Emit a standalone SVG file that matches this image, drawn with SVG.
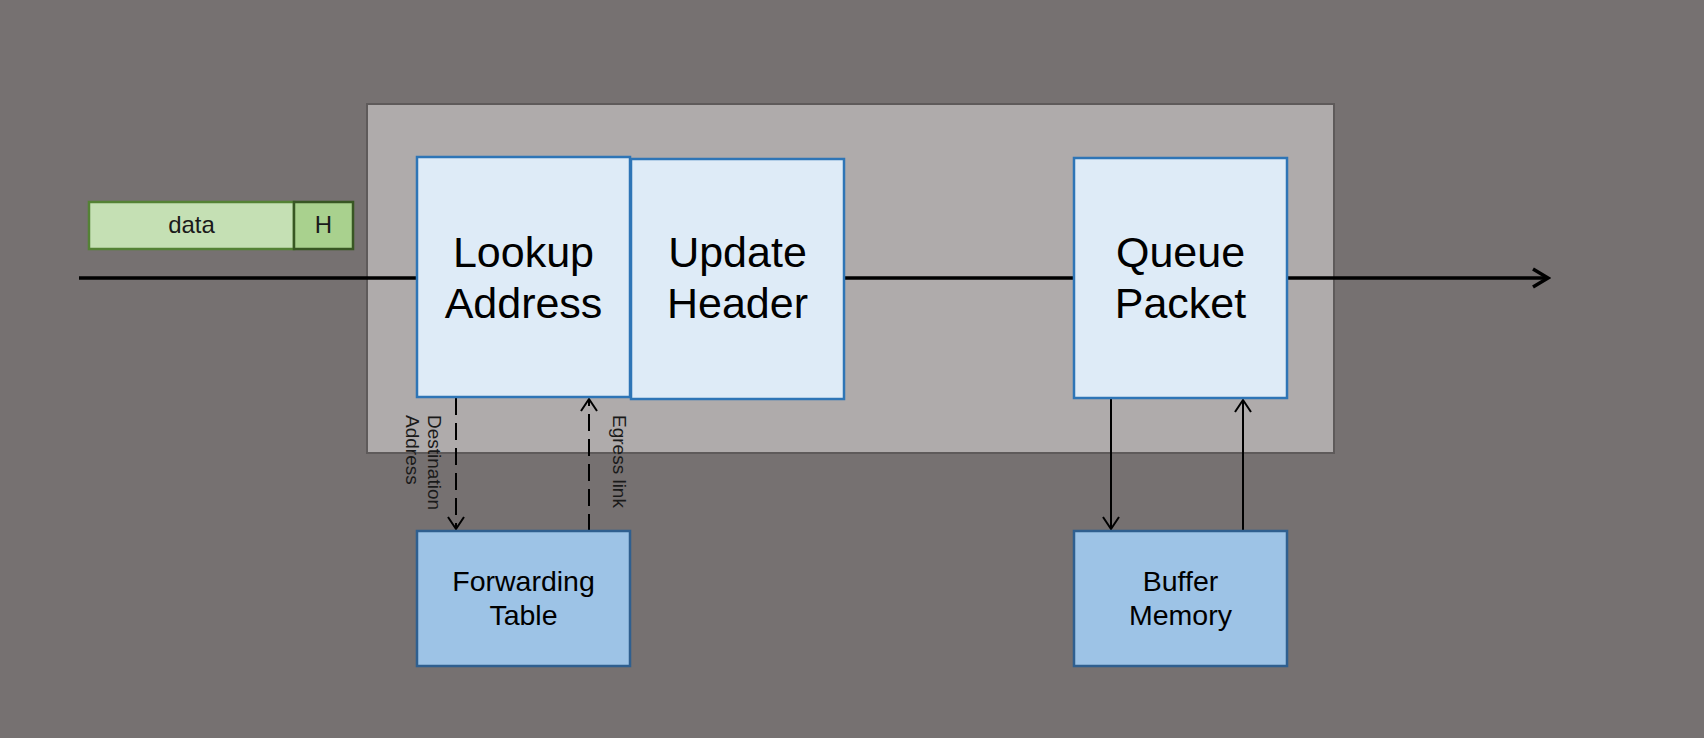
<svg xmlns="http://www.w3.org/2000/svg" width="1704" height="738" viewBox="0 0 1704 738">
<style>
.bg{fill:#767171}
.container{fill:#afabab;stroke:#5e5a5a;stroke-width:2}
.proc{fill:#deebf7;stroke:#2e75b6;stroke-width:2.5}
.store{fill:#9dc3e6;stroke:#2f5f8f;stroke-width:2.5}
.data{fill:#c5e0b4;stroke:#548235;stroke-width:2.5}
.hdr{fill:#a9d18e;stroke:#385723;stroke-width:2.5}
text{font-family:"Liberation Sans",Arial,sans-serif;fill:#000}
.big{font-size:43px;text-anchor:middle}
.mid{font-size:28.5px;text-anchor:middle}
.pk{font-size:24px;text-anchor:middle;fill:#1a1a1a}
.lbl{font-size:19px;fill:#1a1a1a}
.main{stroke:#000;stroke-width:3.5;fill:none}
.conn{stroke:#000;stroke-width:2;fill:none}
.dash{stroke-dasharray:17 8}
</style>
<defs>
<marker id="bigArrow" markerUnits="userSpaceOnUse" markerWidth="20" markerHeight="24" refX="17" refY="12" orient="auto" viewBox="0 0 20 24">
<path d="M2,3 L17,12 L2,21" fill="none" stroke="#000" stroke-width="3.5" stroke-dasharray="none"/>
</marker>
<marker id="smallArrow" markerUnits="userSpaceOnUse" markerWidth="16" markerHeight="20" refX="13" refY="10" orient="auto" viewBox="0 0 16 20">
<path d="M1,2 L13,10 L1,18" fill="none" stroke="#000" stroke-width="2" stroke-dasharray="none"/>
</marker>
</defs>
<rect class="bg" x="0" y="0" width="1704" height="738"/>
<g id="router">
<rect class="container" x="367" y="104" width="967" height="349"/>
</g>
<g id="connectors">
<line class="main" x1="79" y1="278" x2="417" y2="278"/>
<line class="main" x1="844" y1="278" x2="1074" y2="278"/>
<line class="main" x1="1287" y1="278" x2="1548" y2="278" marker-end="url(#bigArrow)"/>
<line class="conn dash" x1="456" y1="398" x2="456" y2="529" marker-end="url(#smallArrow)"/>
<line class="conn dash" x1="589" y1="531" x2="589" y2="399" marker-end="url(#smallArrow)"/>
<line class="conn" x1="1111" y1="398" x2="1111" y2="529" marker-end="url(#smallArrow)"/>
<line class="conn" x1="1243" y1="531" x2="1243" y2="400" marker-end="url(#smallArrow)"/>
<text class="lbl" transform="translate(428,415) rotate(90)"><tspan x="0" y="0">Destination</tspan><tspan x="0" y="22">Address</tspan></text>
<text class="lbl" transform="translate(613,415) rotate(90)">Egress link</text>
</g>
<g id="packet">
<rect class="data" x="89" y="202" width="205" height="47"/>
<text class="pk" x="191.5" y="233">data</text>
<rect class="hdr" x="294" y="202" width="59" height="47"/>
<text class="pk" x="323.5" y="233">H</text>
</g>
<g id="lookup">
<rect class="proc" x="417" y="157" width="213" height="240"/>
<text class="big" x="523.5" y="267">Lookup</text>
<text class="big" x="523.5" y="318">Address</text>
</g>
<g id="update">
<rect class="proc" x="631" y="159" width="213" height="240"/>
<text class="big" x="737.5" y="267">Update</text>
<text class="big" x="737.5" y="318">Header</text>
</g>
<g id="queue">
<rect class="proc" x="1074" y="158" width="213" height="240"/>
<text class="big" x="1180.5" y="267">Queue</text>
<text class="big" x="1180.5" y="318">Packet</text>
</g>
<g id="forwarding">
<rect class="store" x="417" y="531" width="213" height="135"/>
<text class="mid" x="523.5" y="591">Forwarding</text>
<text class="mid" x="523.5" y="625">Table</text>
</g>
<g id="buffer">
<rect class="store" x="1074" y="531" width="213" height="135"/>
<text class="mid" x="1180.5" y="591">Buffer</text>
<text class="mid" x="1180.5" y="625">Memory</text>
</g>
</svg>
